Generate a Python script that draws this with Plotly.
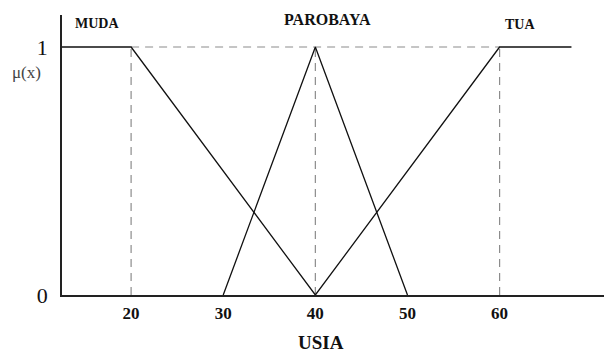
import plotly.graph_objects as go

# Membership function breakpoints (USIA vs mu(x))
muda_x = [12.5, 20, 40]
muda_y = [1, 1, 0]
parobaya_x = [30, 40, 50]
parobaya_y = [0, 1, 0]
tua_x = [40, 60, 67.8]
tua_y = [0, 1, 1]

set_labels = ["MUDA", "PAROBAYA", "TUA"]
label_x = [16.3, 41.3, 62.2]
label_y = [1.095, 1.112, 1.092]

x_ticks = [20, 30, 40, 50, 60]
y_ticks = [0, 1]
guide_x = [20, 40, 60]

serif = "Liberation Serif, Times New Roman, serif"

fig = go.Figure()

# dashed guides
for gx in guide_x:
    fig.add_trace(go.Scatter(x=[gx, gx], y=[0, 1], mode="lines",
                             line=dict(color="#8c8c8c", width=1.2, dash="8px,6px"),
                             hoverinfo="skip", showlegend=False))
fig.add_trace(go.Scatter(x=[guide_x[0], guide_x[-1]], y=[1, 1], mode="lines",
                         line=dict(color="#8c8c8c", width=1.2, dash="8px,6px"),
                         hoverinfo="skip", showlegend=False))

for xs, ys in [(muda_x, muda_y), (parobaya_x, parobaya_y), (tua_x, tua_y)]:
    fig.add_trace(go.Scatter(x=xs, y=ys, mode="lines",
                             line=dict(color="#111111", width=1.3),
                             showlegend=False, cliponaxis=False))

for lab, lx, ly in zip(set_labels, label_x, label_y):
    fig.add_annotation(x=lx, y=ly, xref="x", yref="y", text="<b>%s</b>" % lab,
                       showarrow=False, xanchor="center", yanchor="middle",
                       font=dict(family=serif, size=16 if lab == "PAROBAYA" else 14, color="#111"))

fig.add_annotation(x=0.471, y=-0.168, xref="paper", yref="paper", text="<b>USIA</b>",
                   showarrow=False, xanchor="center", yanchor="middle",
                   font=dict(family=serif, size=19, color="#111"))
fig.add_annotation(x=-0.064, y=0.793, xref="paper", yref="paper", text="μ(x)",
                   showarrow=False, xanchor="center", yanchor="middle",
                   font=dict(family=serif, size=17, color="#444"))

fig.update_layout(
    width=604, height=345,
    margin=dict(l=54, r=0, t=7, b=58, pad=0),
    paper_bgcolor="white", plot_bgcolor="white",
    xaxis=dict(range=[12.5, 72.2], tickvals=x_ticks,
               ticktext=["<b>%d</b>" % v for v in x_ticks],
               showgrid=False, zeroline=False, showline=True, linecolor="#222", linewidth=1.5,
               ticks="outside", ticklen=2, tickcolor="rgba(0,0,0,0)",
               tickfont=dict(family=serif, size=17, color="#111")),
    yaxis=dict(range=[0, 1.129], tickvals=y_ticks, ticktext=["0", "1"],
               showgrid=False, zeroline=False, showline=True, linecolor="#222", linewidth=1.5,
               ticks="outside", ticklen=8, tickcolor="rgba(0,0,0,0)",
               tickfont=dict(family=serif, size=22, color="#111")),
)

fig.write_html("out.html")
